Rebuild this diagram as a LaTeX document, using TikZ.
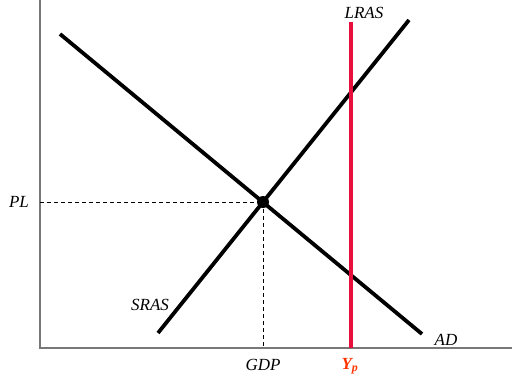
\documentclass[tikz,border=0pt]{standalone}
\usepackage{fontspec}
\setmainfont{Liberation Serif}
\usetikzlibrary{positioning}
\definecolor{lrasred}{RGB}{232,16,58}
\definecolor{ypred}{RGB}{255,51,0}
\definecolor{axisgray}{RGB}{120,120,120}
\tikzset{
  axis/.style={axisgray,line width=1.8pt},
  curve/.style={line width=3.8pt,black},
  lras/.style={line width=4.6pt,lrasred},
  guide/.style={thin,dash pattern=on 4pt off 3pt},
  eqpt/.style={circle,fill=black,inner sep=0pt,minimum size=12pt},
  clab/.style={font=\itshape\fontsize{17}{19}\selectfont,inner sep=1pt},
  every picture/.style={x=1pt,y=-1pt}
}
\begin{document}
\begin{tikzpicture}
      \useasboundingbox (0,0) rectangle (512,378);
      \coordinate (o) at (40,348); \coordinate (ytop) at (40,0); \coordinate (xend) at (512,348);
      \draw[axis] (ytop) -- (o) -- (xend);
      \coordinate (ad1) at (60,34); \coordinate (ad2) at (422,334);
      \coordinate (sr1) at (158,333); \coordinate (sr2) at (409,20);
      \coordinate (lr1) at (351,22); \coordinate (lr2) at (351,348);
      \draw[curve] (ad1) -- (ad2); \draw[curve] (sr1) -- (sr2); \draw[lras] (lr1) -- (lr2);
      \node[eqpt] (eq) at (263,202) {};
      \coordinate (pl) at (40,202); \coordinate (gdp) at (263,348);
      \draw[guide] (pl) -- (eq.center); \draw[guide] (eq.center) -- (gdp);
      \node[clab] (pltxt) at (19,202) {PL}; \node[clab] (gdptxt) at (263,365) {GDP};
      \node[clab,font=\bfseries\itshape\fontsize{17}{19}\selectfont,text=ypred] (yptxt) at (350,366) {Y\textsubscript{p}};
      \node[clab] (lrastxt) at (364,13) {LRAS}; \node[clab] (srastxt) at (150,305) {SRAS}; \node[clab] (adtxt) at (446,340) {AD};
    \end{tikzpicture}
\end{document}
